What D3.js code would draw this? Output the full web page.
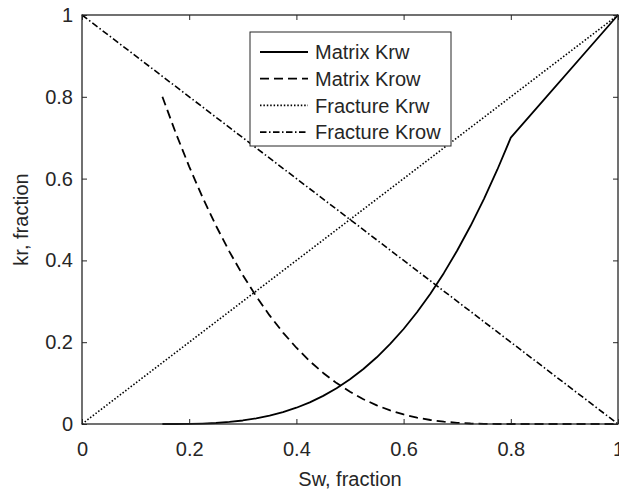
<!DOCTYPE html>
<html>
<head>
<meta charset="utf-8">
<script src="https://cdn.jsdelivr.net/npm/d3@7"></script>
<style>
  html, body { margin: 0; padding: 0; background: #fff; }
  svg { display: block; font-family: "Liberation Sans", Arial, Helvetica, sans-serif; }
</style>
</head>
<body>
<svg id="chart" width="619" height="498"></svg>
<script>
// Water saturation samples for the matrix curves
const swMatrix = [0.15, 0.175, 0.2, 0.225, 0.25, 0.275, 0.3, 0.325, 0.35, 0.375,
                  0.4, 0.425, 0.45, 0.475, 0.5, 0.525, 0.55, 0.575, 0.6, 0.625,
                  0.65, 0.675, 0.7, 0.725, 0.75, 0.775, 0.8, 1.0];
// Matrix water relative permeability
const krwMatrix = [0, 0.00004, 0.0003, 0.0011, 0.0025, 0.0050, 0.0086, 0.0137, 0.0204, 0.0290,
                   0.0398, 0.0530, 0.0688, 0.0875, 0.1093, 0.1344, 0.1631, 0.1957, 0.2323, 0.2732,
                   0.3186, 0.3688, 0.4241, 0.4846, 0.5506, 0.6223, 0.7, 1.0];
// Matrix oil relative permeability
const krowMatrix = [0.8, 0.7112, 0.6293, 0.5538, 0.4847, 0.4215, 0.3641, 0.3122, 0.2655, 0.2236,
                    0.1865, 0.1536, 0.1249, 0.1, 0.0787, 0.0606, 0.0455, 0.0332, 0.0233, 0.0156,
                    0.0098, 0.0057, 0.0029, 0.0012, 0.0004, 0.00005, 0, 0];
// Fracture curves (straight lines)
const swFracture = [0, 1];
const krwFracture = [0, 1];
const krowFracture = [1, 0];

const tickValues = [0, 0.2, 0.4, 0.6, 0.8, 1];
const tickLabels = ["0", "0.2", "0.4", "0.6", "0.8", "1"];
const seriesNames = ["Matrix Krw", "Matrix Krow", "Fracture Krw", "Fracture Krow"];

const svg = d3.select("#chart");
const plotLeft = 82, plotRight = 618, plotTop = 15, plotBottom = 424;
const axisColor = "#262626";
const fontSize = 20;

const x = d3.scaleLinear().domain([0, 1]).range([plotLeft, plotRight]);
const y = d3.scaleLinear().domain([0, 1]).range([plotBottom, plotTop]);
const labelOf = d => tickLabels[tickValues.indexOf(d)];

// Line styles
const styles = [
  { dash: null, width: 1.8 },
  { dash: "9,5", width: 1.8 },
  { dash: "1.5,1.9", width: 1.6 },
  { dash: "6.5,2.5,1.5,2.5", width: 1.6 }
];

const series = [
  swMatrix.map((s, i) => [s, krwMatrix[i]]),
  swMatrix.map((s, i) => [s, krowMatrix[i]]),
  swFracture.map((s, i) => [s, krwFracture[i]]),
  swFracture.map((s, i) => [s, krowFracture[i]])
];

const line = d3.line().x(d => x(d[0])).y(d => y(d[1]));

// Axes with inward ticks
const styleAxis = g => {
  g.select(".domain").remove();
  g.selectAll(".tick line").attr("stroke", axisColor).attr("stroke-width", 1);
  g.selectAll(".tick text").attr("fill", axisColor).style("font-size", fontSize + "px")
    .style("font-family", "'Liberation Sans', Arial, sans-serif");
};

svg.append("g").attr("transform", `translate(0,${plotBottom})`)
  .call(d3.axisBottom(x).tickValues(tickValues).tickFormat(labelOf).tickSize(-5).tickPadding(18))
  .call(styleAxis);
svg.append("g").attr("transform", `translate(0,${plotTop})`)
  .call(d3.axisTop(x).tickValues(tickValues).tickFormat("").tickSize(-5))
  .call(styleAxis);
svg.append("g").attr("transform", `translate(${plotLeft},0)`)
  .call(d3.axisLeft(y).tickValues(tickValues).tickFormat(labelOf).tickSize(-5).tickPadding(9))
  .call(styleAxis);
svg.append("g").attr("transform", `translate(${plotRight},0)`)
  .call(d3.axisRight(y).tickValues(tickValues).tickFormat("").tickSize(-5))
  .call(styleAxis);

// Curves
series.forEach((pts, i) => {
  svg.append("path")
    .attr("d", line(pts))
    .attr("fill", "none")
    .attr("stroke", "#000")
    .attr("stroke-width", styles[i].width)
    .attr("stroke-dasharray", styles[i].dash)
    .attr("stroke-linejoin", "round");
});

// Axes box
svg.append("rect")
  .attr("x", plotLeft).attr("y", plotTop)
  .attr("width", plotRight - plotLeft).attr("height", plotBottom - plotTop)
  .attr("fill", "none").attr("stroke", axisColor).attr("stroke-width", 1.3);

// Axis labels
svg.append("text")
  .attr("x", (plotLeft + plotRight) / 2).attr("y", 486)
  .attr("text-anchor", "middle").attr("fill", axisColor)
  .style("font-size", fontSize + "px")
  .text("Sw, fraction");
svg.append("text")
  .attr("transform", `translate(28,${(plotTop + plotBottom) / 2}) rotate(-90)`)
  .attr("text-anchor", "middle").attr("fill", axisColor)
  .style("font-size", fontSize + "px")
  .text("kr, fraction");

// Legend
const lg = svg.append("g");
lg.append("rect").attr("x", 250).attr("y", 32).attr("width", 201).attr("height", 114)
  .attr("fill", "#fff").attr("stroke", axisColor).attr("stroke-width", 1);
seriesNames.forEach((name, i) => {
  const cy = 52 + i * 26.7;
  lg.append("line").attr("x1", 260).attr("x2", 308).attr("y1", cy).attr("y2", cy)
    .attr("stroke", "#000").attr("stroke-width", styles[i].width)
    .attr("stroke-dasharray", styles[i].dash);
  lg.append("text").attr("x", 315).attr("y", cy).attr("dy", "0.36em")
    .attr("fill", axisColor).style("font-size", fontSize + "px").text(name);
});
</script>
</body>
</html>
